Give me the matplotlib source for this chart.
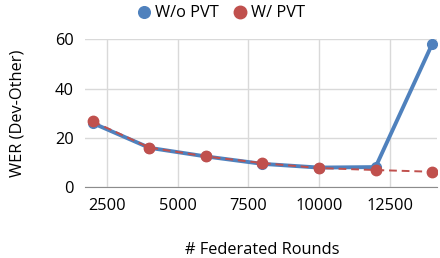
import matplotlib
matplotlib.use("Agg")
import matplotlib.pyplot as plt

rounds = [2000, 4000, 6000, 8000, 10000, 12000, 14000]
wo_pvt = [26.0, 16.0, 12.5, 9.5, 8.0, 8.2, 58.0]
w_pvt = [26.7, 16.1, 12.5, 9.8, 7.8, 7.0, 6.3]
xticks = [2500, 5000, 7500, 10000, 12500]
yticks = [0, 20, 40, 60]

plt.rcParams['font.family'] = ['Open Sans', 'DejaVu Sans']
fig = plt.figure(figsize=(4.4, 2.58), dpi=100)
ax = fig.add_axes([0.193, 0.274, 0.8, 0.574])

blue = '#4F81BD'
red = '#C0504D'
ax.plot(rounds, wo_pvt, color=blue, lw=2.8, marker='o', ms=7, label='W/o PVT', zorder=3)
ax.plot(rounds, w_pvt, color=red, lw=1.4, ls=(0, (4, 2.5)), marker='o', ms=7.5, label='W/ PVT', zorder=4)

ax.set_xlim(1720, 14170)
ax.set_ylim(0, 60)
ax.set_xticks(xticks)
ax.set_yticks(yticks)
ax.grid(True, color='#D9D9D9', lw=1)
ax.set_axisbelow(True)
for s in ['top', 'right', 'left']:
    ax.spines[s].set_visible(False)
ax.spines['bottom'].set_color('#8C8C8C')
ax.tick_params(length=0, labelsize=11.8, colors='#000000', pad=8)
ax.set_ylabel('WER (Dev-Other)', fontsize=11.8, labelpad=21)
fig.text(0.596, 0.0, '# Federated Rounds', fontsize=11.8, ha='center', va='bottom')

leg = fig.legend(loc='center', bbox_to_anchor=(0.505, 0.948), ncol=2, frameon=False,
                 fontsize=11.8, handlelength=0.6, handletextpad=0.35, columnspacing=1.0,
                 markerscale=1.2)
for h in leg.legend_handles:
    h.set_linestyle('none')

fig.savefig('out.png', dpi=100)
